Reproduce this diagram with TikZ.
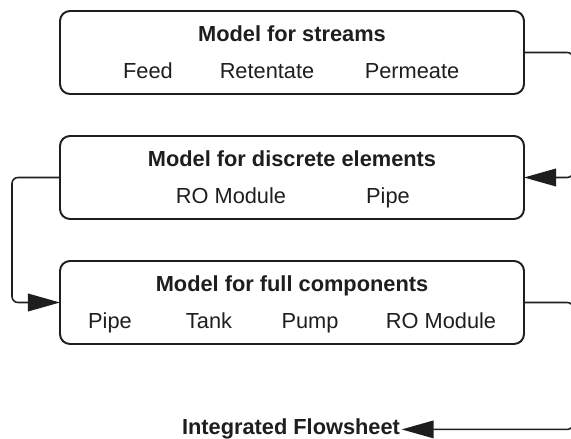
\documentclass[tikz,border=0pt]{standalone}
\usepackage{fontspec}
\setmainfont{Liberation Sans}
\usepackage{tikz}
\usetikzlibrary{arrows.meta}
\usepackage{xcolor}
\definecolor{ink}{HTML}{1E1E1E}

\begin{document}
\begin{tikzpicture}
\tikzstyle{every node}=[text=ink,font=\fontsize{15.5}{18}\selectfont,inner sep=1pt]
\tikzstyle{modelbox}=[draw=ink,line width=1.4pt,rounded corners=0.25cm,minimum width=11.6cm,minimum height=2.075cm,inner sep=0pt,outer sep=0pt]
\tikzstyle{heading}=[anchor=base,font=\fontsize{15.5}{18}\selectfont\bfseries]
\tikzstyle{entry}=[anchor=base]
\tikzstyle{link}=[draw=ink,line width=1.1pt,rounded corners=0.15cm,arrows={-Triangle[length=0.8cm,width=0.44cm]}]
\useasboundingbox (0,0) rectangle (14.275,-10.975);
\coordinate (r) at (14.33,0);
\coordinate (l) at (0.3,0);
% streams
\node[modelbox] (s) at (7.3,-1.3125) {};
\node[heading] (st) at (7.3,-1.05) {Model for streams};
\node[entry] (feed) at (3.7,-1.975) {Feed};
\node[entry] (ret) at (6.675,-1.975) {Retentate};
\node[entry] (perm) at (10.3,-1.975) {Permeate};
% discrete elements
\node[modelbox] (d) at (7.3,-4.4375) {};
\node[heading] (dt) at (7.3,-4.175) {Model for discrete elements};
\node[entry] (ro) at (5.775,-5.1) {RO Module};
\node[entry] (pipe) at (9.7,-5.1) {Pipe};
% full components
\node[modelbox] (c) at (7.3,-7.5625) {};
\node[heading] (ct) at (7.3,-7.3) {Model for full components};
\node[entry] (cpipe) at (2.75,-8.225) {Pipe};
\node[entry] (tank) at (5.225,-8.225) {Tank};
\node[entry] (pump) at (7.75,-8.225) {Pump};
\node[entry] (cro) at (11.025,-8.225) {RO Module};
\node[heading] (fs) at (7.275,-10.875) {Integrated Flowsheet};
\draw[link] (s.east) -- (s.east -| r) -- (d.east -| r) -- (d.east);
\draw[link] (d.west) -- (d.west -| l) -- (c.west -| l) -- (c.west);
\draw[link] (c.east) -- (c.east -| r) -- (fs.east -| r) -- (fs.east);
\end{tikzpicture}
\end{document}
